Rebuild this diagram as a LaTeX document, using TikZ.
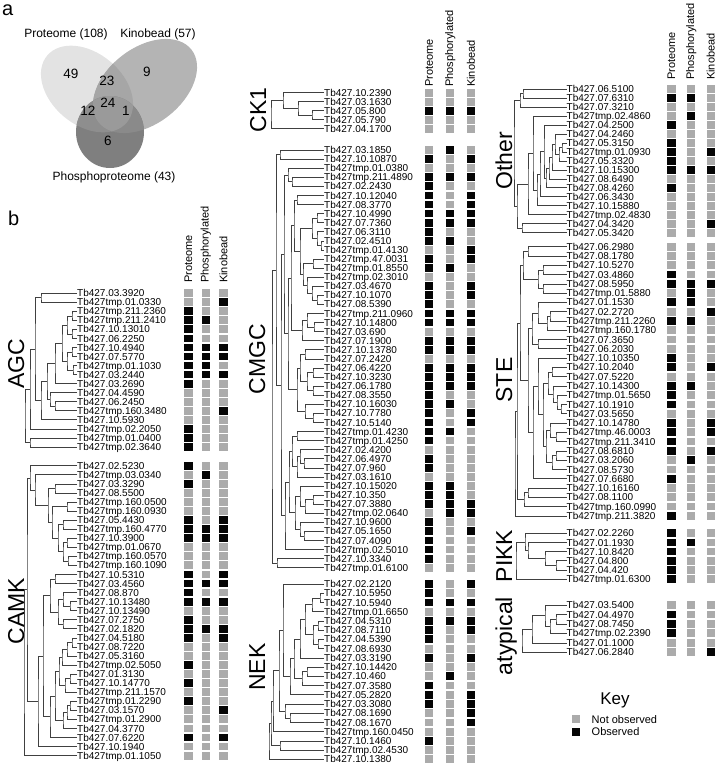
\documentclass[tikz,border=0pt]{standalone}
\usepackage{fontspec}
\setmainfont{Liberation Sans}
\usetikzlibrary{calc}
\definecolor{sq0}{HTML}{ABABAB}
\definecolor{sq1}{HTML}{050505}
\definecolor{vP}{HTML}{E3E3E3}
\definecolor{vK}{HTML}{B4B4B4}
\definecolor{vPh}{HTML}{7F7F7F}
\definecolor{vPK}{HTML}{A6A6A6}
\definecolor{vPPh}{HTML}{8E8E8E}
\definecolor{vKPh}{HTML}{8A8A8A}
\definecolor{vPKPh}{HTML}{9A9A9A}
\tikzset{
 leaf/.style={anchor=west, inner sep=0pt, font=\fontsize{10}{10}\selectfont, text height=7.2pt, text depth=0pt},
 sq/.style={draw=none, minimum width=8.5pt, minimum height=7.8pt, inner sep=0pt},
 tree/.style={line width=0.6pt, draw=black!75},
 grouplab/.style={rotate=90, anchor=base, inner sep=0pt, font=\fontsize{23}{23}\selectfont},
 colhead/.style={rotate=90, anchor=west, inner sep=0pt, font=\fontsize{11}{11}\selectfont},
 vnum/.style={inner sep=0pt, font=\fontsize{13.5}{13.5}\selectfont},
 vlab/.style={inner sep=0pt, font=\fontsize{12}{12}\selectfont},
 panel/.style={anchor=base west, inner sep=0pt, font=\fontsize{20}{20}\selectfont},
 Pell/.style={rotate around={-40:(87,89)}},
 Kell/.style={rotate around={38:(145,86)}},
}
\newcommand\Pp{(87,89) ellipse [x radius=52pt, y radius=36pt]}
\newcommand\Kp{(145,86) ellipse [x radius=59pt, y radius=38pt]}
\newcommand\Php{(110,132) ellipse [x radius=34pt, y radius=36pt]}
% group: prefix, leaf x, y0, dy, xP, xH, xK, list
\newcommand\grp[8]{%
  \foreach \lab/\p/\h/\k [count=\i] in {#8} {
    \pgfmathsetmacro\yy{#3+(\i-1)*#4}
    \node[leaf] (#1\i) at (#2,\yy) {Tb427\lab};
    \node[sq, fill=sq\p] (#1P\i) at (#5,\yy) {};
    \node[sq, fill=sq\h] (#1H\i) at (#6,\yy) {};
    \node[sq, fill=sq\k] (#1K\i) at (#7,\yy) {};
  }}
\newcommand\cl[4]{%
  \path let \p1=(#3),\p2=(#4) in ({#2pt},{0.5*(\y1+\y2)}) coordinate (#1);
  \draw[tree] (#3) -| (#1) |- (#4);}
\begin{document}
\begin{tikzpicture}[x=1pt,y=-1pt]
\useasboundingbox (0,0) rectangle (716,764);
% ---------- panel a : Venn ----------
\node[panel] (pa) at (2,15) {a};
\fill[vP,Pell] \Pp;
\fill[vK,Kell] \Kp;
\fill[vPh] \Php;
\begin{scope}\clip[Pell] \Pp; \fill[vPK,Kell] \Kp; \end{scope}
\begin{scope}\clip[Pell] \Pp; \fill[vPPh] \Php; \end{scope}
\begin{scope}\clip[Kell] \Kp; \fill[vKPh] \Php; \end{scope}
\begin{scope}\clip[Pell] \Pp; \clip[Kell] \Kp; \fill[vPKPh] \Php; \end{scope}
\node[vlab] (lp) at (66,34) {Proteome (108)};
\node[vlab] (lk) at (158,34) {Kinobead (57)};
\node[vlab] (lph) at (114,177) {Phosphoproteome (43)};
\node[vnum] (v49) at (71,74) {49};
\node[vnum] (v23) at (107,81) {23};
\node[vnum] (v9) at (147,72) {9};
\node[vnum] (v24) at (108,103) {24};
\node[vnum] (v12) at (88,111) {12};
\node[vnum] (v1) at (126,111) {1};
\node[vnum] (v6) at (108,141) {6};
% ---------- panel b ----------
\node[panel] (pb) at (8,225) {b};
% column headers
\node[colhead] (h1p) at (188.3,283) {Proteome};
\node[colhead] (h1h) at (205.8,283) {Phosphorylated};
\node[colhead] (h1k) at (223.5,283) {Kinobead};
\node[colhead] (h2p) at (429.2,87) {Proteome};
\node[colhead] (h2h) at (450.2,87) {Phosphorylated};
\node[colhead] (h2k) at (471,87) {Kinobead};
\node[colhead] (h3p) at (671.5,80) {Proteome};
\node[colhead] (h3h) at (691.2,80) {Phosphorylated};
\node[colhead] (h3k) at (710.8,80) {Kinobead};
% group labels
\node[grouplab] (gAGC) at (24,364) {AGC};
\node[grouplab] (gCAMK) at (24,611) {CAMK};
\node[grouplab] (gCK1) at (266,110) {CK1};
\node[grouplab] (gCMGC) at (265,359) {CMGC};
\node[grouplab] (gNEK) at (265,667) {NEK};
\node[grouplab] (gOther) at (512,161) {Other};
\node[grouplab] (gSTE) at (512,380) {STE};
\node[grouplab] (gPIKK) at (512,556) {PIKK};
\node[grouplab] (gaty) at (512,636) {atypical};
% ---------- AGC ----------
\grp{a}{77}{293.2}{9.04}{188.3}{205.8}{223.5}{.03.3920/0/0/0, tmp.01.0330/0/0/1, tmp.211.2360/1/0/0, tmp.211.2410/1/1/0, .10.13010/1/0/0, .06.2250/1/0/0, .10.4940/1/1/1, .07.5770/1/1/1, tmp.01.1030/1/1/0, .03.2440/1/1/1, .03.2690/1/0/0, .04.4590/0/0/0, .06.2450/0/0/0, tmp.160.3480/0/0/1, .10.5930/0/0/0, tmp.02.2050/1/0/0, tmp.01.0400/1/0/0, tmp.02.3640/1/0/0}
\cl{ax1}{41}{a1}{a2}
\cl{ax2}{72}{a3}{a4}
\cl{ax3}{72}{a5}{a6}
\cl{ax4}{67}{ax2}{ax3}
\cl{ax5}{72}{a7}{a8}
\cl{ax6}{73}{a9}{a10}
\cl{ax7}{67}{ax5}{ax6}
\cl{ax8}{62}{ax4}{ax7}
\cl{ax9}{55}{ax8}{a11}
\cl{ax10}{55}{a13}{a14}
\cl{ax11}{50}{a12}{ax10}
\cl{ax12}{47}{ax9}{ax11}
\cl{ax13}{41}{ax12}{a15}
\cl{ax14}{35}{ax1}{ax13}
\cl{ax15}{30}{ax14}{a16}
\cl{ax16}{30}{a17}{a18}
\cl{ax17}{25}{ax15}{ax16}
% ---------- CAMK ----------
\grp{c}{77}{465.7}{9.06}{188.3}{205.8}{223.5}{.02.5230/1/0/0, tmp.03.0340/0/1/0, .03.3290/1/0/0, .08.5500/0/0/0, tmp.160.0500/0/0/0, tmp.160.0930/0/0/0, .05.4430/1/0/1, tmp.160.4770/1/1/1, .10.3900/1/1/1, tmp.01.0670/0/0/0, tmp.160.0570/0/0/0, tmp.160.1090/0/0/0, .10.5310/1/0/1, .03.4560/1/1/1, .08.870/1/0/0, .10.13480/1/1/1, .10.13490/0/0/0, .07.2750/1/0/0, .02.1820/1/1/1, .04.5180/1/0/1, .08.7220/0/0/0, .05.3160/0/0/0, tmp.02.5050/1/0/0, .01.3130/0/0/0, .10.14770/1/0/0, tmp.211.1570/0/0/0, tmp.01.2290/1/0/0, .03.1570/0/0/1, tmp.01.2900/0/0/0, .04.3770/0/0/0, .07.6220/1/0/1, .10.1940/0/0/0, tmp.01.1050/0/0/0}
\cl{cx1}{55}{c3}{c4}
\cl{cx2}{67}{c5}{c6}
\cl{cx3}{63}{c7}{c8}
\cl{cx4}{67}{c9}{c10}
\cl{cx5}{68}{c11}{c12}
\cl{cx6}{63}{cx4}{cx5}
\cl{cx7}{58}{cx3}{cx6}
\cl{cx8}{52}{cx2}{cx7}
\cl{cx9}{48}{cx1}{cx8}
\cl{cx10}{35}{c2}{cx9}
\cl{cx11}{30}{c1}{cx10}
\cl{cx12}{55}{c13}{c14}
\cl{cx13}{70}{c16}{c17}
\cl{cx14}{63}{c15}{cx13}
\cl{cx15}{63}{c18}{c19}
\cl{cx16}{58}{cx14}{cx15}
\cl{cx17}{50}{cx12}{cx16}
\cl{cx18}{72}{c20}{c21}
\cl{cx19}{67}{cx18}{c22}
\cl{cx20}{62}{cx19}{c23}
\cl{cx21}{70}{c24}{c25}
\cl{cx22}{65}{cx21}{c26}
\cl{cx23}{59}{cx20}{cx22}
\cl{cx24}{70}{c27}{c28}
\cl{cx25}{67}{cx24}{c29}
\cl{cx26}{63}{cx25}{c30}
\cl{cx27}{55}{cx23}{cx26}
\cl{cx28}{50}{cx27}{c31}
\cl{cx29}{43}{cx17}{cx28}
\cl{cx30}{38}{cx29}{c32}
\cl{cx31}{27}{cx11}{cx30}
\cl{cx32}{24}{cx31}{c33}
% ---------- CK1 ----------
\grp{k}{324}{92.7}{9.0}{429.2}{450.2}{471}{.10.2390/0/0/0, .03.1630/0/0/0, .05.800/1/1/1, .05.790/0/0/0, .04.1700/0/0/0}
\cl{kx1}{312}{k3}{k4}
\cl{kx2}{298}{k2}{kx1}
\cl{kx3}{283}{k1}{kx2}
\cl{kx4}{271}{kx3}{k5}
% ---------- CMGC ----------
\grp{m}{324}{150}{9.08}{429.2}{450.2}{471}{.03.1850/0/1/0, .10.10870/1/0/1, tmp.01.0380/0/0/0, tmp.211.4890/1/1/1, .02.2430/1/0/0, .10.12040/1/0/1, .08.3770/1/0/1, .10.4990/1/1/1, .07.7360/1/1/1, .06.3110/1/0/0, .02.4510/1/1/0, tmp.01.4130/0/0/1, tmp.47.0031/1/0/1, tmp.01.8550/1/1/0, tmp.02.3010/0/0/0, .03.4670/1/0/1, .10.1070/1/0/1, .08.5390/1/0/0, tmp.211.0960/1/1/1, .10.14800/1/1/1, .03.690/0/0/0, .07.1900/1/1/1, .10.13780/1/1/1, .07.2420/0/0/0, .06.4220/1/1/1, .10.3230/1/1/1, .06.1780/1/1/1, .08.3550/1/0/0, .10.16030/1/1/0, .10.7780/1/0/1, .10.5140/1/0/1, tmp.01.4230/1/1/0, tmp.01.4250/1/0/0, .02.4200/0/0/0, .06.4970/1/0/0, .07.960/1/0/0, .03.1610/0/0/0, .10.15020/1/1/0, .10.350/1/1/0, .07.3880/1/1/1, tmp.02.0640/0/1/1, .10.9600/1/0/0, .05.1650/1/0/1, .07.4090/1/0/0, tmp.02.5010/1/0/0, .10.3340/1/0/0, tmp.01.6100/0/0/0}
\cl{mx1}{280}{m1}{m2}
\cl{mx2}{292}{m4}{m5}
\cl{mx3}{288}{m3}{mx2}
\cl{mx4}{297}{m6}{m7}
\cl{mx5}{317}{m8}{m9}
\cl{mx6}{321}{m11}{m12}
\cl{mx7}{317}{m10}{mx6}
\cl{mx8}{312}{mx5}{mx7}
\cl{mx9}{313}{m13}{m14}
\cl{mx10}{317}{m17}{m18}
\cl{mx11}{312}{m16}{mx10}
\cl{mx12}{307}{m15}{mx11}
\cl{mx13}{303}{mx9}{mx12}
\cl{mx14}{300}{mx8}{mx13}
\cl{mx15}{314}{m20}{m21}
\cl{mx16}{307}{m19}{mx15}
\cl{mx17}{302}{mx16}{m22}
\cl{mx19}{305}{m23}{m24}
\cl{mx20}{313}{m25}{m26}
\cl{mx21}{313}{m27}{m28}
\cl{mx22}{307}{mx20}{mx21}
\cl{mx23}{300}{mx19}{mx22}
\cl{mx24}{313}{m30}{m31}
\cl{mx25}{305}{m29}{mx24}
\cl{mx26}{297}{mx23}{mx25}
\cl{mx27}{297}{m32}{m33}
\cl{mx28}{304}{m35}{m36}
\cl{mx29}{300}{m34}{mx28}
\cl{mx30}{297}{mx29}{m37}
\cl{mx31}{292}{mx27}{mx30}
\cl{mx32}{313}{m39}{m40}
\cl{mx33}{305}{mx32}{m41}
\cl{mx34}{300}{m38}{mx33}
\cl{mx35}{304}{m43}{m44}
\cl{mx36}{300}{m42}{mx35}
\cl{mx37}{295}{mx34}{mx36}
\cl{mx38}{289}{mx31}{mx37}
\cl{mx39}{285}{mx38}{m45}
\cl{mx40}{277}{m46}{m47}
\cl{mx41}{294}{mx4}{mx14}
\cl{mx42}{291}{mx41}{mx17}
\cl{mx43}{288}{mx42}{mx26}
\cl{mx44}{284}{mx3}{mx43}
\cl{mx45}{281}{mx44}{mx39}
\cl{mx46}{276}{mx1}{mx45}
\cl{mx47}{272}{mx46}{mx40}
% ---------- NEK ----------
\grp{n}{324}{584}{9.23}{429.2}{450.2}{471}{.02.2120/1/0/1, .10.5950/1/0/0, .10.5940/1/1/1, tmp.01.6650/0/0/0, .04.5310/1/1/1, .08.7110/1/0/1, .04.5390/1/0/0, .08.6930/0/0/0, .03.3190/1/0/1, .10.14420/0/0/0, .10.460/0/1/0, .07.3580/1/0/0, .05.2820/1/0/1, .03.3080/1/0/1, .08.1690/0/0/1, .08.1670/0/0/1, tmp.160.0450/0/0/0, .10.1460/1/0/0, tmp.02.4530/0/0/0, .10.1380/0/0/0}
\cl{nx1}{320}{n2}{n3}
\cl{nx2}{312}{nx1}{n4}
\cl{nx3}{318}{n5}{n6}
\cl{nx4}{318}{n7}{n8}
\cl{nx5}{313}{nx3}{nx4}
\cl{nx6}{305}{nx2}{nx5}
\cl{nx7}{300}{nx6}{n9}
\cl{nx8}{307}{n10}{n11}
\cl{nx9}{302}{nx8}{n12}
\cl{nx10}{294}{nx7}{nx9}
\cl{nx11}{290}{nx10}{n13}
\cl{nx12}{283}{n1}{nx11}
\cl{nx13}{290}{n15}{n16}
\cl{nx14}{285}{n14}{nx13}
\cl{nx15}{279}{nx12}{nx14}
\cl{nx16}{273}{nx15}{n17}
\cl{nx17}{280}{n18}{n19}
\cl{nx18}{271}{nx16}{nx17}
\cl{nx19}{269}{nx18}{n20}
% ---------- Other ----------
\grp{o}{566.5}{89}{8.98}{671.5}{691.2}{710.8}{.06.5100/0/0/0, .07.6310/1/1/0, .07.3210/0/0/0, tmp.02.4860/0/1/0, .04.2500/1/0/0, .04.2460/0/0/0, .05.3150/1/0/0, tmp.01.0930/1/0/1, .05.3320/1/0/0, .10.15300/1/1/1, .08.6490/0/0/0, .08.4260/1/0/0, .06.3430/0/0/0, .10.15880/0/0/0, tmp.02.4830/0/0/0, .04.3420/0/0/1, .05.3420/0/0/0}
\cl{ox1}{523}{o1}{o2}
\cl{ox2}{520}{ox1}{o3}
\cl{ox3}{562}{o7}{o8}
\cl{ox4}{559}{ox3}{o9}
\cl{ox5}{555}{o6}{ox4}
\cl{ox6}{552}{ox5}{o10}
\cl{ox7}{549}{ox6}{o11}
\cl{ox8}{546}{ox7}{o12}
\cl{ox9}{544}{o5}{ox8}
\cl{ox10}{540}{ox9}{o13}
\cl{ox11}{537}{ox10}{o14}
\cl{ox12}{533}{o4}{ox11}
\cl{ox13}{528}{ox12}{o15}
\cl{ox14}{522}{o16}{o17}
\cl{ox15}{517}{ox13}{ox14}
\cl{ox16}{514}{ox2}{ox15}
% ---------- STE ----------
\grp{s}{566.5}{246.7}{9.28}{671.5}{691.2}{710.8}{.06.2980/0/0/0, .08.1780/0/0/0, .10.5270/0/0/0, .03.4860/1/0/0, .08.5950/1/1/1, tmp.01.5880/0/1/0, .01.1530/1/1/0, .02.2720/0/0/1, tmp.211.2260/1/1/0, tmp.160.1780/0/0/0, .07.3650/0/0/0, .06.2030/0/0/0, .10.10350/1/0/0, .10.2040/1/0/1, .07.5220/0/0/0, .10.14300/1/1/0, tmp.01.5650/1/0/0, .10.1910/1/0/0, .03.5650/0/0/0, .10.14780/1/0/1, tmp.46.0003/1/0/1, tmp.211.3410/1/0/0, .08.6810/1/0/1, .03.2060/0/1/0, .08.5730/0/0/0, .07.6680/1/0/0, .10.16160/0/0/0, .08.1100/0/0/0, tmp.160.0990/0/0/0, tmp.211.3820/1/0/0}
\cl{sx1}{528}{s1}{s2}
\cl{sx2}{543}{s3}{s4}
\cl{sx3}{543}{s5}{s6}
\cl{sx4}{538}{sx2}{sx3}
\cl{sx5}{523}{sx1}{sx4}
\cl{sx6}{550}{s8}{s9}
\cl{sx7}{547}{sx6}{s10}
\cl{sx8}{538}{s7}{sx7}
\cl{sx9}{538}{s11}{s12}
\cl{sx10}{532}{sx8}{sx9}
\cl{sx11}{552}{s14}{s15}
\cl{sx12}{561}{s18}{s19}
\cl{sx13}{557}{s17}{sx12}
\cl{sx14}{553}{s16}{sx13}
\cl{sx15}{548}{sx11}{sx14}
\cl{sx16}{556}{s21}{s22}
\cl{sx17}{550}{s20}{sx16}
\cl{sx18}{556}{s23}{s24}
\cl{sx19}{552}{sx18}{s25}
\cl{sx20}{546}{sx17}{sx19}
\cl{sx21}{543}{sx15}{sx20}
\cl{sx22}{538}{s13}{sx21}
\cl{sx23}{533}{sx22}{s26}
\cl{sx24}{528}{sx10}{sx23}
\cl{sx25}{520}{sx5}{sx24}
\cl{sx26}{528}{s27}{s28}
\cl{sx27}{524}{sx26}{s29}
\cl{sx28}{517}{sx25}{sx27}
\cl{sx29}{515}{sx28}{s30}
% ---------- PIKK ----------
\grp{p}{566.5}{533.3}{9.14}{671.5}{691.2}{710.8}{.02.2260/1/0/0, .01.1930/1/1/0, .10.8420/1/0/0, .04.800/1/0/0, .04.420/1/0/0, tmp.01.6300/1/0/0}
\cl{px1}{556}{p4}{p5}
\cl{px2}{545}{p3}{px1}
\cl{px3}{528}{p2}{px2}
\cl{px4}{525}{p1}{px3}
\cl{px5}{516}{px4}{p6}
% ---------- atypical ----------
\grp{t}{566.5}{605}{9.46}{671.5}{691.2}{710.8}{.03.5400/0/0/0, .04.4970/1/0/0, .08.7450/1/0/0, tmp.02.2390/1/0/0, .01.1000/0/0/0, .06.2840/0/0/1}
\cl{tx1}{556}{t2}{t3}
\cl{tx2}{550}{tx1}{t4}
\cl{tx3}{545}{t1}{tx2}
\cl{tx4}{532}{tx3}{t5}
\cl{tx5}{522}{tx4}{t6}
% ---------- Key ----------
\node[inner sep=0pt, font=\fontsize{17}{17}\selectfont] (key) at (615,700) {Key};
\node[sq, fill=sq0] (key0) at (576,719.3) {};
\node[sq, fill=sq1] (key1) at (576,732) {};
\node[anchor=west, inner sep=0pt, font=\fontsize{11}{11}\selectfont] (key0t) at (591.5,719.3) {Not observed};
\node[anchor=west, inner sep=0pt, font=\fontsize{11}{11}\selectfont] (key1t) at (591.5,732) {Observed};
\end{tikzpicture}
\end{document}
